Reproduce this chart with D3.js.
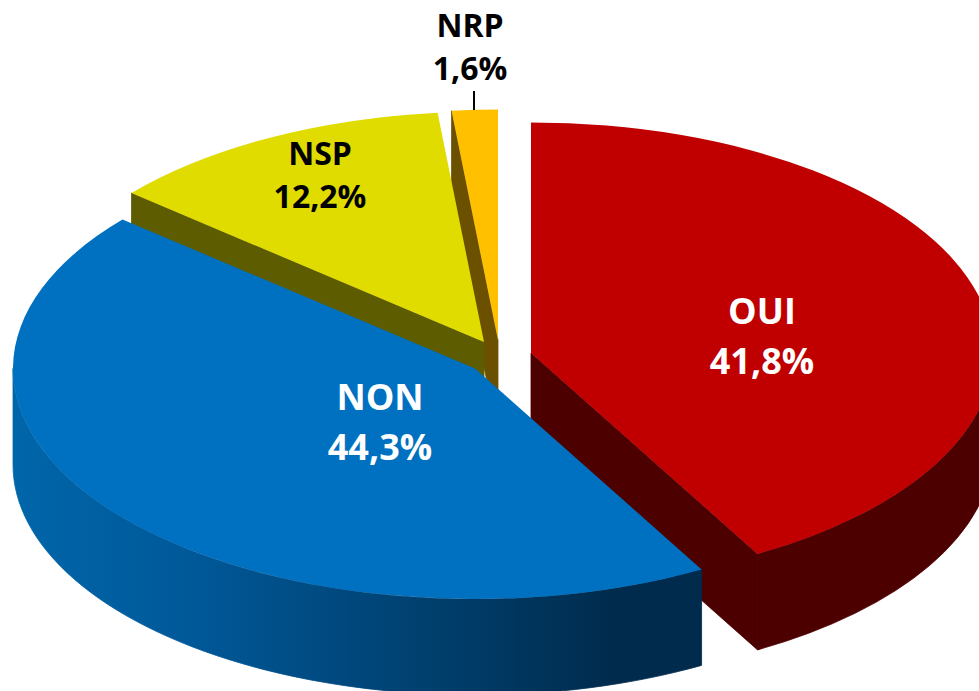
<!DOCTYPE html>
<html lang="en">
<head>
  <meta charset="UTF-8" />
  <title>Pie 3D</title>
  <script src="https://d3js.org/d3.v7.min.js"></script>
  <style>
    html, body { margin: 0; padding: 0; background: #fff; overflow: hidden; }
    text { font-family: "Open Sans", sans-serif; font-weight: 700; text-anchor: middle; }
  </style>
</head>
<body>
  <svg id="chart" width="979" height="691"></svg>
  <script>
    const categories = ["OUI", "NON", "NSP", "NRP"];
    const values = [41.8, 44.3, 12.2, 1.6];
    const valueLabels = ["41,8%", "44,3%", "12,2%", "1,6%"];

    const topColors = ["#c00000", "#0070c0", "#e0dc00", "#ffc000"];
    const wallColors = ["#4c0000", "url(#wallBlue)", "#5e5c00", "#6b5000"];
    const labelColors = ["#fff", "#fff", "#000", "#000"];

    // each slice is pulled out on its own, so each has its own centre
    const centers = [[531, 353], [475, 368.5], [484, 342], [498, 340]];
    const labelPos = [[762, 324], [380, 410], [320, 164.5], [470, 37]];
    const rx = 462, ry = 230.5, depth = 96;

    const svg = d3.select("#chart");

    const grad = svg.append("defs").append("linearGradient")
      .attr("id", "wallBlue")
      .attr("gradientUnits", "userSpaceOnUse")
      .attr("x1", 13).attr("x2", 620).attr("y1", 0).attr("y2", 0);
    grad.append("stop").attr("offset", "0%").attr("stop-color", "#0066aa");
    grad.append("stop").attr("offset", "30%").attr("stop-color", "#005898");
    grad.append("stop").attr("offset", "100%").attr("stop-color", "#002b4c");

    const slices = d3.pie().sort(null)(values);

    // big unit radius, d3.arc rounds its output to 3 decimals
    const unit = 1000;
    const arc = d3.arc().innerRadius(0).outerRadius(unit);

    // angle is clockwise from the top, same as d3.pie
    const px = (i, a) => centers[i][0] + rx * Math.sin(a);
    const py = (i, a) => centers[i][1] - ry * Math.cos(a);

    // outer rim, only the part facing the viewer
    function rimPath(i, s) {
      const a0 = Math.max(s.startAngle, Math.PI / 2);
      const a1 = Math.min(s.endAngle, 3 * Math.PI / 2);
      if (a0 >= a1) return null;
      return `M${px(i, a0)},${py(i, a0)}` +
        `A${rx},${ry} 0 0 1 ${px(i, a1)},${py(i, a1)}` +
        `L${px(i, a1)},${py(i, a1) + depth}` +
        `A${rx},${ry} 0 0 0 ${px(i, a0)},${py(i, a0) + depth}Z`;
    }

    // cut face of the slice, on the side that can be seen
    function cutPath(i, a) {
      const [cx, cy] = centers[i];
      return `M${cx},${cy}L${px(i, a)},${py(i, a)}` +
        `L${px(i, a)},${py(i, a) + depth}L${cx},${cy + depth}Z`;
    }

    function drawSlice(i) {
      const s = slices[i];
      const g = svg.append("g");
      // thin stroke closes the hairline seams between the faces
      const wall = d => g.append("path").attr("d", d)
        .attr("fill", wallColors[i])
        .attr("stroke", wallColors[i]).attr("stroke-width", 0.8);
      if (i === 0) wall(cutPath(i, s.endAngle));
      if (i === 2 || i === 3) wall(cutPath(i, s.startAngle));
      const rim = rimPath(i, s);
      if (rim) wall(rim);
      g.append("path")
        .attr("d", arc(s))
        .attr("transform", `translate(${centers[i]}) scale(${rx / unit},${ry / unit})`)
        .attr("fill", topColors[i]);
    }

    // back slices first
    [3, 2, 0, 1].forEach(drawSlice);

    // leader for the small slice
    svg.append("line")
      .attr("x1", 474).attr("x2", 474)
      .attr("y1", 91).attr("y2", 110)
      .attr("stroke", "#000").attr("stroke-width", 2);

    const labels = svg.append("g").selectAll("g")
      .data(categories)
      .join("g")
      .attr("transform", (d, i) => `translate(${labelPos[i]})`)
      .attr("fill", (d, i) => labelColors[i]);
    labels.append("text")
      .attr("font-size", (d, i) => i < 2 ? 36 : 32)
      .text(d => d);
    labels.append("text")
      .attr("y", (d, i) => i < 2 ? 49.5 : 43)
      .attr("font-size", (d, i) => i < 2 ? 36 : 32)
      .text((d, i) => valueLabels[i]);
  </script>
</body>
</html>
